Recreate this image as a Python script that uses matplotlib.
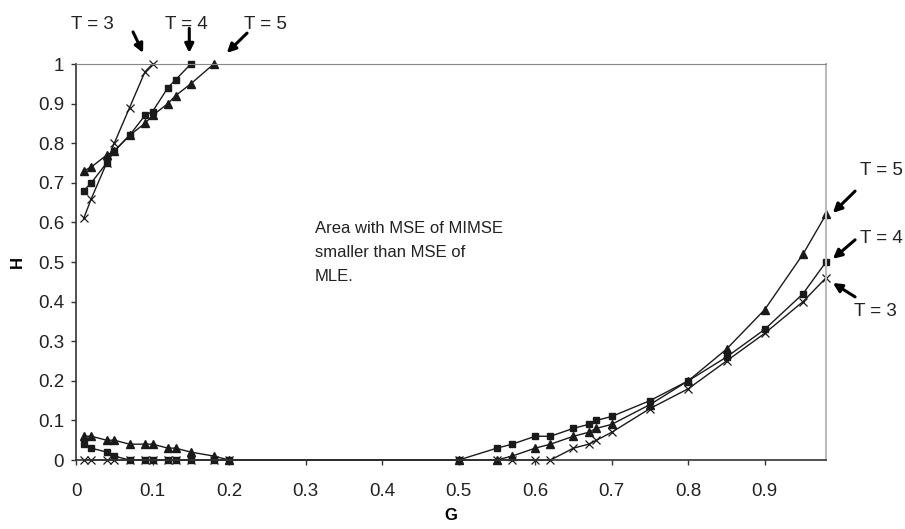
import matplotlib.pyplot as plt
import numpy as np

plt.rcParams["font.family"] = ["Liberation Sans", "DejaVu Sans"]

# upper-left branches (G, H)
up_g3 = [0.01, 0.02, 0.04, 0.05, 0.07, 0.09, 0.10]
up_h3 = [0.61, 0.66, 0.75, 0.80, 0.89, 0.98, 1.00]
up_g4 = [0.01, 0.02, 0.04, 0.05, 0.07, 0.09, 0.10, 0.12, 0.13, 0.15]
up_h4 = [0.68, 0.70, 0.75, 0.78, 0.82, 0.87, 0.88, 0.94, 0.96, 1.00]
up_g5 = [0.01, 0.02, 0.04, 0.05, 0.07, 0.09, 0.10, 0.12, 0.13, 0.15, 0.18]
up_h5 = [0.73, 0.74, 0.77, 0.78, 0.82, 0.85, 0.87, 0.90, 0.92, 0.95, 1.00]

# lower branches (shared G grid)
low_g = [0.01, 0.02, 0.04, 0.05, 0.07, 0.09, 0.10, 0.12, 0.13, 0.15, 0.18, 0.20,
         0.50, 0.55, 0.57, 0.60, 0.62, 0.65, 0.67, 0.68, 0.70, 0.75, 0.80, 0.85,
         0.90, 0.95, 0.98]
low_h3 = [0, 0, 0, 0, 0, 0, 0, 0, 0, 0, 0, 0,
          0, 0, 0, 0, 0, 0.03, 0.04, 0.05, 0.07, 0.13, 0.18, 0.25,
          0.32, 0.40, 0.46]
low_h4 = [0.04, 0.03, 0.02, 0.01, 0, 0, 0, 0, 0, 0, 0, 0,
          0, 0.03, 0.04, 0.06, 0.06, 0.08, 0.09, 0.10, 0.11, 0.15, 0.20, 0.26,
          0.33, 0.42, 0.50]
low_h5 = [0.06, 0.06, 0.05, 0.05, 0.04, 0.04, 0.04, 0.03, 0.03, 0.02, 0.01, 0,
          0, 0, 0.01, 0.03, 0.04, 0.06, 0.07, 0.08, 0.09, 0.14, 0.20, 0.28,
          0.38, 0.52, 0.62]

x_ticks = [0, 0.1, 0.2, 0.3, 0.4, 0.5, 0.6, 0.7, 0.8, 0.9]
x_labels = ["0", "0.1", "0.2", "0.3", "0.4", "0.5", "0.6", "0.7", "0.8", "0.9"]
y_ticks = [0, 0.1, 0.2, 0.3, 0.4, 0.5, 0.6, 0.7, 0.8, 0.9, 1.0]
y_labels = ["0", "0.1", "0.2", "0.3", "0.4", "0.5", "0.6", "0.7", "0.8", "0.9", "1"]

fig = plt.figure(figsize=(9.05, 5.29), dpi=100)
ax = fig.add_axes([0.084, 0.1304, 0.8287, 0.7486])

styles = {
    3: dict(marker="x", markersize=6, markeredgewidth=0.9),
    4: dict(marker="s", markersize=4),
    5: dict(marker="^", markersize=5.5),
}
series = [
    (3, up_g3, up_h3, low_h3),
    (4, up_g4, up_h4, low_h4),
    (5, up_g5, up_h5, low_h5),
]
for t, ug, uh, lh in series:
    kw = dict(color="#1a1a1a", linewidth=1.0, clip_on=False, **styles[t])
    ax.plot(ug, uh, **kw)
    ax.plot(low_g, lh, **kw)

ax.set_xlim(0, 0.98)
ax.set_ylim(0, 1)
ax.set_xticks(x_ticks, x_labels)
ax.set_yticks(y_ticks, y_labels)
ax.tick_params(axis="both", labelsize=13.5, length=3.6, width=1, color="#333333",
               labelcolor="#222222", direction="out", pad=5)
ax.tick_params(axis="x", pad=13)

ax.spines["left"].set_color("#333333")
ax.spines["bottom"].set_color("#333333")
ax.spines["left"].set_linewidth(1.2)
ax.spines["bottom"].set_linewidth(1.2)
ax.spines["top"].set_color("#888888")
ax.spines["right"].set_color("#bbbbbb")
ax.spines["right"].set_linewidth(1.5)

ax.set_xlabel("G", fontsize=12, fontweight="bold", labelpad=6)
ax.set_ylabel("H", fontsize=12, fontweight="bold", labelpad=9)

ax.text(0.312, 0.603, "Area with MSE of MIMSE\nsmaller than MSE of\nMLE.",
        fontsize=12, ha="left", va="top", linespacing=1.75, color="#222222")

arrow = dict(arrowstyle="-|>", color="black", lw=2.2, mutation_scale=13,
             shrinkA=0, shrinkB=0)

# top labels
for lbl, tx, arr_tail, arr_head in [
    ("T = 3", 0.021, (0.0745, 1.081), (0.0876, 1.028)),
    ("T = 4", 0.144, (0.148, 1.090), (0.148, 1.028)),
    ("T = 5", 0.247, (0.2235, 1.078), (0.197, 1.028)),
]:
    ax.text(tx, 1.100, lbl, fontsize=13.5, ha="center", va="center",
            color="#222222")
    ax.annotate("", xy=arr_head, xytext=arr_tail, arrowprops=arrow,
                annotation_clip=False)

# right labels
for lbl, tx, ty, arr_tail, arr_head in [
    ("T = 5", 1.052, 0.732, (1.018, 0.679), (0.989, 0.624)),
    ("T = 4", 1.052, 0.560, (1.018, 0.556), (0.989, 0.508)),
    ("T = 3", 1.044, 0.376, (1.018, 0.412), (0.989, 0.447)),
]:
    ax.text(tx, ty, lbl, fontsize=13.5, ha="center", va="center",
            color="#222222")
    ax.annotate("", xy=arr_head, xytext=arr_tail, arrowprops=arrow,
                annotation_clip=False)

fig.savefig("out.png", dpi=100)
